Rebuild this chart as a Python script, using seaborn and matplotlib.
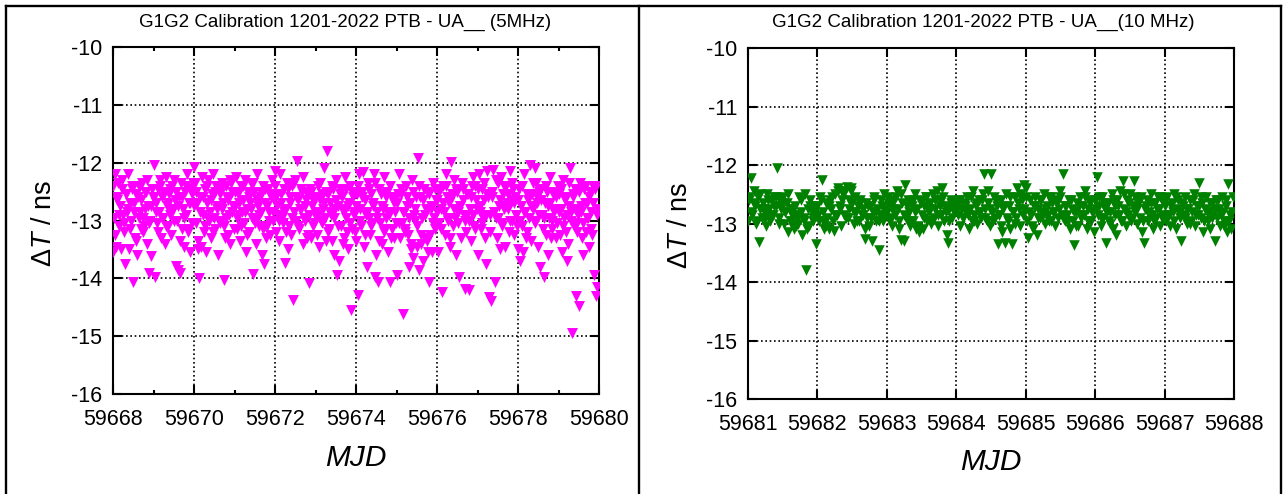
import matplotlib
matplotlib.use("Agg")
import matplotlib.pyplot as plt
from matplotlib.lines import Line2D
import pandas as pd
import seaborn as sns

# ---------------- data ----------------
title_5mhz = "G1G2 Calibration 1201-2022 PTB - UA__ (5MHz)"
title_10mhz = "G1G2 Calibration 1201-2022 PTB - UA__(10 MHz)"
xlabel_text = "MJD"
ylabel_text = r"$\Delta\mathit{T}$ / ns"

xticks_5mhz = [59668, 59670, 59672, 59674, 59676, 59678, 59680]
xminor_5mhz = [59669, 59671, 59673, 59675, 59677, 59679]
xticks_10mhz = [59681, 59682, 59683, 59684, 59685, 59686, 59687, 59688]
yticks_all = [-16, -15, -14, -13, -12, -11, -10]

# measurement days and sampling times within each day
days_5mhz = [59668, 59669, 59670, 59671, 59672, 59673, 59674, 59675, 59676, 59677, 59678, 59679]
frac_5mhz = [0.00, 0.03, 0.05, 0.08, 0.10, 0.13, 0.15, 0.18, 0.20, 0.23,
             0.25, 0.28, 0.30, 0.33, 0.35, 0.38, 0.40, 0.43, 0.45, 0.48,
             0.50, 0.53, 0.55, 0.58, 0.60, 0.63, 0.65, 0.68, 0.70, 0.73,
             0.75, 0.78, 0.80, 0.83, 0.85, 0.88, 0.90, 0.93, 0.95, 0.98]
frac_5mhz_b = [0.01, 0.06, 0.11, 0.16, 0.21, 0.26, 0.31, 0.36, 0.41, 0.46,
               0.51, 0.56, 0.61, 0.66, 0.71, 0.76, 0.81, 0.86, 0.91, 0.96]

dT_5_59668 = [-13.55, -12.95, -12.20, -13.45, -12.60, -12.35, -13.10, -12.75, -13.50, -12.45,
              -12.90, -13.20, -13.75, -12.55, -12.85, -12.20, -13.50, -12.70, -13.00, -12.40,
              -14.06, -12.85, -13.30, -12.55, -13.60, -12.95, -12.40, -13.15, -12.65, -12.95,
              -13.20, -12.50, -12.80, -13.40, -12.30, -13.05, -13.90, -13.62, -12.75, -12.60]
dT_5_59669 = [-12.04, -13.98, -12.70, -13.05, -12.45, -12.85, -12.30, -13.30, -12.60, -12.95,
              -12.50, -13.40, -12.25, -12.75, -13.10, -12.55, -12.90, -13.25, -12.40, -12.80,
              -12.30, -12.65, -13.78, -13.00, -13.85, -12.60, -13.90, -12.35, -13.15, -12.80,
              -13.45, -12.50, -12.90, -12.20, -13.20, -12.70, -13.55, -12.45, -13.05, -12.35]
dT_5_59670 = [-12.08, -12.35, -13.05, -12.70, -13.50, -14.00, -12.60, -13.45, -12.25, -12.90,
              -13.20, -12.45, -13.55, -12.70, -12.30, -13.00, -12.85, -13.30, -12.55, -12.20,
              -12.95, -13.15, -12.40, -12.75, -13.60, -12.55, -13.05, -12.35, -12.80, -14.03,
              -13.10, -12.40, -12.95, -13.25, -12.65, -12.30, -13.40, -12.85, -12.50, -13.15]
dT_5_59671 = [-12.75, -12.25, -13.15, -12.55, -12.90, -13.35, -12.40, -12.85, -12.65, -13.05,
              -12.30, -13.55, -12.80, -12.50, -13.20, -12.70, -12.35, -12.95, -13.92, -12.50,
              -12.95, -13.40, -12.20, -12.75, -13.10, -12.60, -12.85, -13.60, -12.40, -13.75,
              -12.70, -13.30, -13.10, -12.45, -12.85, -13.25, -12.55, -12.30, -13.00, -12.65]
dT_5_59672 = [-12.15, -13.20, -12.55, -12.90, -13.35, -12.20, -12.70, -12.95, -13.05, -12.45,
              -13.74, -12.80, -12.35, -13.50, -13.10, -12.60, -13.25, -12.40, -14.37, -12.85,
              -12.30, -13.00, -11.97, -12.65, -13.15, -12.45, -12.80, -13.40, -12.25, -13.00,
              -12.75, -13.30, -12.55, -12.90, -14.08, -13.30, -12.50, -13.10, -12.65, -12.90]
dT_5_59673 = [-12.85, -13.25, -12.40, -13.45, -12.65, -13.00, -12.55, -12.80, -12.10, -12.95,
              -13.35, -11.79, -12.55, -13.15, -12.70, -12.90, -13.35, -12.45, -13.60, -12.80,
              -12.30, -13.95, -12.75, -13.70, -12.45, -13.10, -12.60, -13.40, -12.85, -12.25,
              -12.95, -13.20, -13.50, -12.70, -12.40, -14.55, -13.15, -12.60, -12.90, -13.20]
dT_5_59674 = [-13.35, -12.55, -14.28, -12.20, -12.80, -13.10, -12.50, -12.17, -13.45, -12.65,
              -12.90, -13.80, -12.35, -12.95, -13.25, -12.55, -13.05, -12.75, -12.20, -13.97,
              -13.60, -12.85, -14.06, -12.45, -13.05, -12.75, -13.40, -12.25, -13.20, -12.95,
              -12.60, -13.55, -12.85, -14.06, -12.40, -13.15, -12.60, -13.30, -12.70, -13.05]
dT_5_59675 = [-13.95, -12.55, -12.20, -13.30, -12.55, -13.05, -14.61, -12.85, -13.15, -12.40,
              -12.75, -13.25, -13.80, -12.70, -13.50, -12.30, -13.65, -12.90, -13.00, -12.60,
              -13.45, -11.92, -13.85, -12.60, -13.40, -12.95, -13.70, -12.45, -13.30, -12.80,
              -12.50, -13.55, -14.06, -13.25, -12.80, -13.55, -12.35, -12.95, -13.15, -12.65]
dT_5_59676 = [-12.65, -13.55, -13.05, -12.45, -12.80, -14.24, -12.40, -12.85, -13.25, -12.20,
              -12.60, -13.00, -12.70, -13.45, -11.98, -12.55, -13.10, -12.30, -12.95, -13.60,
              -12.50, -12.85, -13.98, -12.75, -13.30, -12.65, -12.45, -14.18, -13.00, -12.55,
              -12.90, -14.20, -13.00, -12.60, -13.35, -12.25, -12.90, -13.15, -12.40, -12.80]
dT_5_59677 = [-13.60, -12.20, -12.85, -13.15, -12.45, -12.95, -12.65, -13.30, -13.75, -12.15,
              -12.55, -14.32, -12.90, -14.40, -12.60, -12.12, -12.85, -14.06, -12.95, -13.30,
              -12.35, -12.75, -13.50, -12.25, -13.05, -12.55, -12.80, -13.45, -12.40, -12.70,
              -12.80, -13.20, -12.15, -12.65, -13.00, -12.45, -13.25, -12.60, -12.90, -13.10]
dT_5_59678 = [-13.50, -12.45, -13.70, -12.75, -13.10, -13.55, -12.20, -12.85, -13.30, -12.55,
              -12.65, -12.95, -12.04, -13.35, -12.55, -12.80, -13.00, -12.10, -12.35, -12.70,
              -13.45, -12.50, -13.80, -12.65, -12.90, -13.98, -12.95, -13.25, -12.40, -12.75,
              -13.60, -12.70, -12.25, -13.00, -13.15, -12.50, -12.85, -13.30, -12.60, -12.40]
dT_5_59679 = [-12.55, -13.25, -12.80, -13.55, -12.30, -12.95, -12.60, -13.20, -13.70, -13.40,
              -12.75, -12.10, -12.85, -14.95, -12.60, -13.10, -12.45, -14.31, -13.05, -12.90,
              -14.47, -12.35, -12.85, -13.30, -13.60, -12.45, -12.70, -13.20, -12.70, -12.95,
              -13.45, -12.50, -12.85, -13.25, -12.40, -13.95, -12.40, -14.31, -14.15, -12.80]

# interleaved samples (frac_5mhz_b)
dT_5b_59668 = [-12.40, -13.25, -12.65, -12.90, -12.30, -13.05, -12.55, -12.80, -13.15, -12.45,
               -12.70, -13.35, -12.60, -12.85, -12.35, -13.10, -12.50, -12.75, -13.00, -12.45]
dT_5b_59669 = [-12.60, -12.85, -13.20, -12.40, -12.95, -12.55, -13.10, -12.70, -12.45, -12.85,
               -13.00, -12.50, -12.75, -13.35, -12.60, -12.95, -12.40, -13.15, -12.70, -12.55]
dT_5b_59670 = [-12.75, -12.50, -13.35, -12.85, -12.60, -13.10, -12.40, -12.95, -12.65, -13.20,
               -12.50, -12.80, -13.00, -12.45, -12.70, -13.30, -12.60, -12.90, -12.35, -12.75]
dT_5b_59671 = [-12.50, -12.95, -12.70, -13.10, -12.40, -12.85, -13.25, -12.60, -12.80, -12.35,
               -13.05, -12.65, -12.90, -12.50, -13.15, -12.45, -12.75, -13.00, -12.60, -12.85]
dT_5b_59672 = [-12.40, -12.75, -13.00, -12.55, -12.85, -13.20, -12.45, -12.70, -12.95, -12.35,
               -12.60, -13.10, -12.80, -12.50, -12.95, -12.65, -13.25, -12.45, -12.75, -13.05]
dT_5b_59673 = [-12.60, -12.90, -12.35, -13.05, -12.70, -12.50, -13.20, -12.85, -12.40, -12.95,
               -12.65, -13.10, -12.55, -12.80, -13.30, -12.45, -12.75, -13.05, -12.50, -12.85]
dT_5b_59674 = [-12.75, -12.40, -13.00, -12.60, -13.25, -12.85, -12.45, -13.10, -12.70, -12.35,
               -12.95, -13.35, -12.55, -12.80, -13.15, -12.50, -12.90, -13.30, -12.65, -12.85]
dT_5b_59675 = [-12.70, -13.05, -12.45, -12.85, -13.20, -12.60, -12.95, -13.40, -12.50, -12.80,
               -13.10, -12.40, -13.25, -12.65, -12.90, -13.35, -12.55, -12.75, -13.05, -12.45]
dT_5b_59676 = [-12.85, -12.50, -13.15, -12.70, -12.40, -12.95, -13.30, -12.60, -12.80, -12.45,
               -13.05, -12.75, -12.35, -12.90, -13.20, -12.55, -12.80, -12.40, -13.10, -12.65]
dT_5b_59677 = [-12.45, -12.75, -13.05, -12.35, -12.90, -12.60, -13.20, -12.50, -12.85, -12.30,
               -12.95, -12.65, -13.10, -12.40, -12.75, -12.55, -13.00, -12.35, -12.70, -12.90]
dT_5b_59678 = [-12.65, -13.00, -12.40, -12.85, -13.20, -12.55, -12.75, -12.35, -13.05, -12.60,
               -12.90, -12.45, -13.15, -12.70, -12.50, -12.95, -13.30, -12.55, -12.80, -13.05]
dT_5b_59679 = [-12.85, -12.45, -13.10, -12.65, -12.90, -12.35, -13.00, -12.55, -12.80, -13.20,
               -12.50, -12.75, -13.05, -12.40, -12.95, -12.60, -13.15, -12.70, -12.45, -12.90]

days_10mhz = [59681, 59682, 59683, 59684, 59685, 59686, 59687]
frac_10mhz = [0.00, 0.02, 0.04, 0.06, 0.08, 0.10, 0.12, 0.14, 0.16, 0.18,
              0.20, 0.22, 0.24, 0.26, 0.28, 0.30, 0.32, 0.34, 0.36, 0.38,
              0.40, 0.42, 0.44, 0.46, 0.48, 0.50, 0.52, 0.54, 0.56, 0.58,
              0.60, 0.62, 0.64, 0.66, 0.68, 0.70, 0.72, 0.74, 0.76, 0.78,
              0.80, 0.82, 0.84, 0.86, 0.88, 0.90, 0.92, 0.94, 0.96, 0.98]
frac_10mhz_b = [0.01, 0.05, 0.09, 0.13, 0.17, 0.21, 0.25, 0.29, 0.33, 0.37,
                0.41, 0.45, 0.49, 0.53, 0.57, 0.61, 0.65, 0.69, 0.73, 0.77,
                0.81, 0.85, 0.89, 0.93, 0.97]

dT_10_59681 = [-12.95, -12.60, -12.22, -12.85, -12.45, -12.70, -13.00, -12.55, -13.32, -12.75,
               -12.90, -12.65, -12.80, -13.05, -12.50, -12.75, -12.95, -12.60, -12.85, -12.70,
               -12.55, -12.05, -12.90, -12.60, -12.75, -12.55, -13.00, -12.80, -12.65, -13.15,
               -12.75, -12.95, -12.85, -13.10, -12.70, -12.90, -13.00, -12.55, -12.80, -13.20,
               -12.95, -12.50, -13.80, -12.75, -13.05, -12.60, -12.80, -12.90, -12.70, -13.35]
dT_10_59682 = [-12.70, -12.95, -12.55, -12.25, -12.80, -13.10, -12.65, -12.90, -13.10, -12.60,
               -12.75, -12.95, -13.12, -12.50, -12.85, -12.40, -12.70, -13.05, -12.60, -12.85,
               -12.45, -12.38, -12.90, -12.75, -12.40, -12.65, -13.00, -12.55, -12.80, -12.70,
               -12.95, -12.60, -12.85, -12.75, -13.26, -12.65, -12.90, -13.05, -12.70, -13.30,
               -12.80, -12.55, -12.95, -12.75, -13.45, -12.85, -12.60, -12.95, -12.50, -12.75]
dT_10_59683 = [-12.80, -12.55, -12.95, -12.70, -13.05, -12.60, -12.85, -12.45, -12.75, -12.95,
               -13.28, -12.65, -13.30, -12.35, -12.90, -12.60, -12.80, -13.05, -12.70, -12.95,
               -12.50, -13.10, -12.75, -13.15, -12.60, -12.85, -13.10, -12.70, -12.55, -12.95,
               -12.80, -12.65, -13.00, -12.50, -12.90, -12.75, -12.45, -13.05, -12.60, -12.85,
               -12.40, -12.95, -12.70, -13.20, -13.34, -12.75, -12.60, -12.90, -12.80, -12.65]
dT_10_59684 = [-12.70, -12.85, -12.60, -13.05, -12.75, -12.90, -12.65, -12.80, -12.55, -13.10,
               -12.75, -12.95, -12.45, -12.85, -12.70, -13.00, -12.60, -12.80, -12.90, -12.50,
               -12.16, -12.75, -12.95, -12.65, -13.05, -12.16, -12.80, -12.55, -12.90, -12.70,
               -13.35, -12.85, -12.60, -13.15, -12.75, -13.33, -12.50, -12.95, -12.70, -13.10,
               -13.35, -12.80, -12.55, -12.90, -12.40, -12.75, -13.05, -12.60, -12.85, -12.35]
dT_10_59685 = [-12.40, -12.95, -13.25, -12.60, -12.85, -13.10, -12.70, -12.55, -13.20, -12.75,
               -12.90, -12.60, -12.80, -12.50, -13.00, -12.70, -12.85, -12.55, -12.95, -12.65,
               -12.80, -13.05, -12.60, -12.90, -12.75, -12.55, -12.85, -12.16, -12.95, -12.70,
               -12.85, -12.60, -13.10, -12.75, -12.95, -13.37, -12.80, -12.65, -13.05, -12.55,
               -12.90, -12.70, -12.85, -12.45, -13.10, -12.75, -12.60, -12.95, -12.80, -13.15]
dT_10_59686 = [-12.60, -12.20, -12.85, -12.70, -13.05, -12.55, -12.90, -12.75, -13.34, -12.65,
               -12.95, -12.80, -12.50, -13.10, -12.70, -13.20, -12.60, -12.85, -12.45, -12.95,
               -12.28, -12.75, -13.05, -12.60, -12.85, -12.50, -12.95, -12.70, -12.28, -12.80,
               -13.00, -12.65, -12.90, -12.55, -13.15, -13.33, -12.75, -12.60, -12.95, -12.80,
               -12.50, -12.85, -13.10, -12.65, -12.90, -12.55, -12.75, -13.05, -12.60, -12.85]
dT_10_59687 = [-12.70, -12.95, -12.55, -12.85, -13.05, -12.65, -12.80, -12.50, -13.10, -12.75,
               -12.60, -12.90, -13.30, -12.70, -12.85, -12.55, -13.00, -12.75, -12.60, -12.95,
               -12.80, -12.50, -13.05, -12.70, -12.85, -12.30, -12.90, -12.65, -13.15, -12.75,
               -12.55, -12.95, -12.80, -13.10, -12.65, -12.85, -13.30, -12.60, -12.90, -12.75,
               -13.05, -12.55, -12.80, -12.95, -12.60, -13.15, -12.33, -12.85, -13.10, -12.55]

# interleaved samples (frac_10mhz_b)
dT_10b_59681 = [-12.55, -12.80, -12.65, -12.95, -12.50, -12.75, -12.90, -12.60, -12.85, -12.55,
                -12.70, -13.00, -12.65, -12.80, -12.50, -12.95, -12.75, -13.05, -12.85, -12.60,
                -12.90, -13.10, -12.70, -12.95, -12.80]
dT_10b_59682 = [-12.85, -12.60, -12.95, -13.05, -12.70, -12.55, -12.85, -12.45, -12.75, -12.50,
                -12.90, -12.60, -12.45, -12.80, -12.95, -12.65, -12.85, -13.10, -12.70, -12.90,
                -12.60, -12.80, -12.95, -12.70, -12.85]
dT_10b_59683 = [-12.65, -12.90, -12.75, -12.55, -13.10, -12.50, -12.85, -12.70, -12.95, -12.60,
                -12.80, -13.05, -12.65, -12.90, -12.55, -12.75, -12.95, -12.60, -12.85, -12.70,
                -12.55, -12.80, -12.95, -12.65, -12.75]
dT_10b_59684 = [-12.75, -12.60, -12.90, -12.70, -12.85, -12.55, -12.95, -12.65, -12.80, -12.60,
                -12.90, -12.45, -12.75, -12.95, -12.60, -12.85, -13.05, -12.70, -12.90, -12.55,
                -12.80, -13.00, -12.65, -12.50, -12.75]
dT_10b_59685 = [-12.55, -12.80, -13.05, -12.70, -12.90, -12.60, -12.85, -12.75, -12.95, -12.55,
                -12.80, -12.65, -12.45, -12.90, -12.70, -12.95, -12.60, -12.80, -13.05, -12.70,
                -12.85, -12.55, -12.95, -12.65, -12.80]
dT_10b_59686 = [-12.75, -12.55, -12.90, -12.65, -12.80, -13.00, -12.60, -12.85, -12.70, -12.95,
                -12.50, -12.80, -12.65, -12.90, -12.55, -12.75, -12.60, -12.95, -12.70, -12.85,
                -12.65, -12.95, -12.75, -12.55, -12.90]
dT_10b_59687 = [-12.60, -12.85, -12.70, -12.95, -12.55, -12.80, -12.65, -12.90, -12.75, -13.00,
                -12.60, -12.85, -12.70, -12.55, -12.95, -12.80, -12.65, -12.90, -12.75, -12.60,
                -12.85, -13.05, -12.70, -12.95, -12.80]

color_5mhz = "#ff00ff"
color_10mhz = "#008000"

# ---------------- assemble tables ----------------
series_5mhz = [dT_5_59668, dT_5_59669, dT_5_59670, dT_5_59671, dT_5_59672, dT_5_59673,
               dT_5_59674, dT_5_59675, dT_5_59676, dT_5_59677, dT_5_59678, dT_5_59679]
series_5mhz_b = [dT_5b_59668, dT_5b_59669, dT_5b_59670, dT_5b_59671, dT_5b_59672, dT_5b_59673,
                 dT_5b_59674, dT_5b_59675, dT_5b_59676, dT_5b_59677, dT_5b_59678, dT_5b_59679]
series_10mhz = [dT_10_59681, dT_10_59682, dT_10_59683, dT_10_59684, dT_10_59685,
                dT_10_59686, dT_10_59687]
series_10mhz_b = [dT_10b_59681, dT_10b_59682, dT_10b_59683, dT_10b_59684, dT_10b_59685,
                  dT_10b_59686, dT_10b_59687]


def build(days, fr_a, ser_a, fr_b, ser_b):
    xs, ys = [], []
    for d, a, b in zip(days, ser_a, ser_b):
        xs += [d + f for f in fr_a[:len(a)]] + [d + f for f in fr_b[:len(b)]]
        ys += list(a) + list(b)
    return pd.DataFrame({"MJD": xs, "dT": ys}).sort_values("MJD")


df5 = build(days_5mhz, frac_5mhz, series_5mhz, frac_5mhz_b, series_5mhz_b)
df10 = build(days_10mhz, frac_10mhz, series_10mhz, frac_10mhz_b, series_10mhz_b)

# ---------------- style ----------------
sns.set_theme(style="ticks")
plt.rcParams["font.family"] = ["Liberation Sans", "DejaVu Sans"]
plt.rcParams["mathtext.fontset"] = "custom"
plt.rcParams["mathtext.rm"] = "Liberation Sans"
plt.rcParams["mathtext.it"] = "Liberation Sans:italic"
plt.rcParams["axes.unicode_minus"] = False

W, H = 1285, 494
fig = plt.figure(figsize=(W / 100, H / 100), dpi=100)
fig.patch.set_facecolor("white")

ax1 = fig.add_axes([113 / W, 1 - 394 / H, 486 / W, 347 / H])
ax2 = fig.add_axes([748 / W, 1 - 399 / H, 486 / W, 351 / H])

sns.scatterplot(data=df5, x="MJD", y="dT", ax=ax1, marker="v", s=62,
                color=color_5mhz, linewidth=0, legend=False, zorder=3)
sns.scatterplot(data=df10, x="MJD", y="dT", ax=ax2, marker="v", s=58,
                color=color_10mhz, linewidth=0, legend=False, zorder=3)


def style_axes(ax, xlim, xmajor, xminor):
    ax.set_facecolor("white")
    ax.set_xlim(*xlim)
    ax.set_ylim(-16, -10)
    ax.set_xticks(xmajor)
    ax.set_xticklabels([str(v) for v in xmajor])
    if xminor:
        ax.set_xticks(xminor, minor=True)
    ax.set_yticks(yticks_all)
    ax.set_yticklabels([str(v) for v in yticks_all])
    ax.set_axisbelow(True)
    ax.grid(True, which="major", color="black", linestyle=(0, (1, 1.6)), linewidth=1.2)
    ax.tick_params(which="both", direction="in", top=True, right=True,
                   color="black", width=1.5, labelsize=15.5, labelcolor="black")
    ax.tick_params(which="major", length=6.5)
    ax.tick_params(which="minor", length=3)
    ax.tick_params(axis="x", pad=11)
    ax.tick_params(axis="y", pad=8)
    for sp in ax.spines.values():
        sp.set_visible(True)
        sp.set_color("black")
        sp.set_linewidth(1.5)
    ax.set_xlabel(xlabel_text, fontsize=21.5, style="italic", color="black")
    ax.set_ylabel(ylabel_text, fontsize=19.5, color="black")
    ax.xaxis.label.set_va("center")
    ax.yaxis.label.set_va("center")


style_axes(ax1, (59668, 59680), xticks_5mhz, xminor_5mhz)
style_axes(ax2, (59681, 59688), xticks_10mhz, None)

ax1.xaxis.set_label_coords(0.5, (394 - 458) / 347)
ax1.yaxis.set_label_coords((44 - 113) / 486, (394 - 223) / 347)
ax2.xaxis.set_label_coords(0.5, (399 - 462) / 351)
ax2.yaxis.set_label_coords((680 - 748) / 486, (399 - 225) / 351)

fig.text(345 / W, 1 - 22 / H, title_5mhz, ha="center", va="center", fontsize=13.5, color="black")
fig.text(983 / W, 1 - 22 / H, title_10mhz, ha="center", va="center", fontsize=13.5, color="black")

# table-cell frame around the two panels
frame_kw = dict(transform=fig.transFigure, color="black", linewidth=1.7, solid_capstyle="projecting")
fig.add_artist(Line2D([6 / W, 1281 / W], [1 - 6 / H, 1 - 6 / H], **frame_kw))
for xp in (6, 639, 1281):
    fig.add_artist(Line2D([xp / W, xp / W], [0, 1 - 6 / H], **frame_kw))

fig.savefig("out.png", dpi=100, facecolor="white")
